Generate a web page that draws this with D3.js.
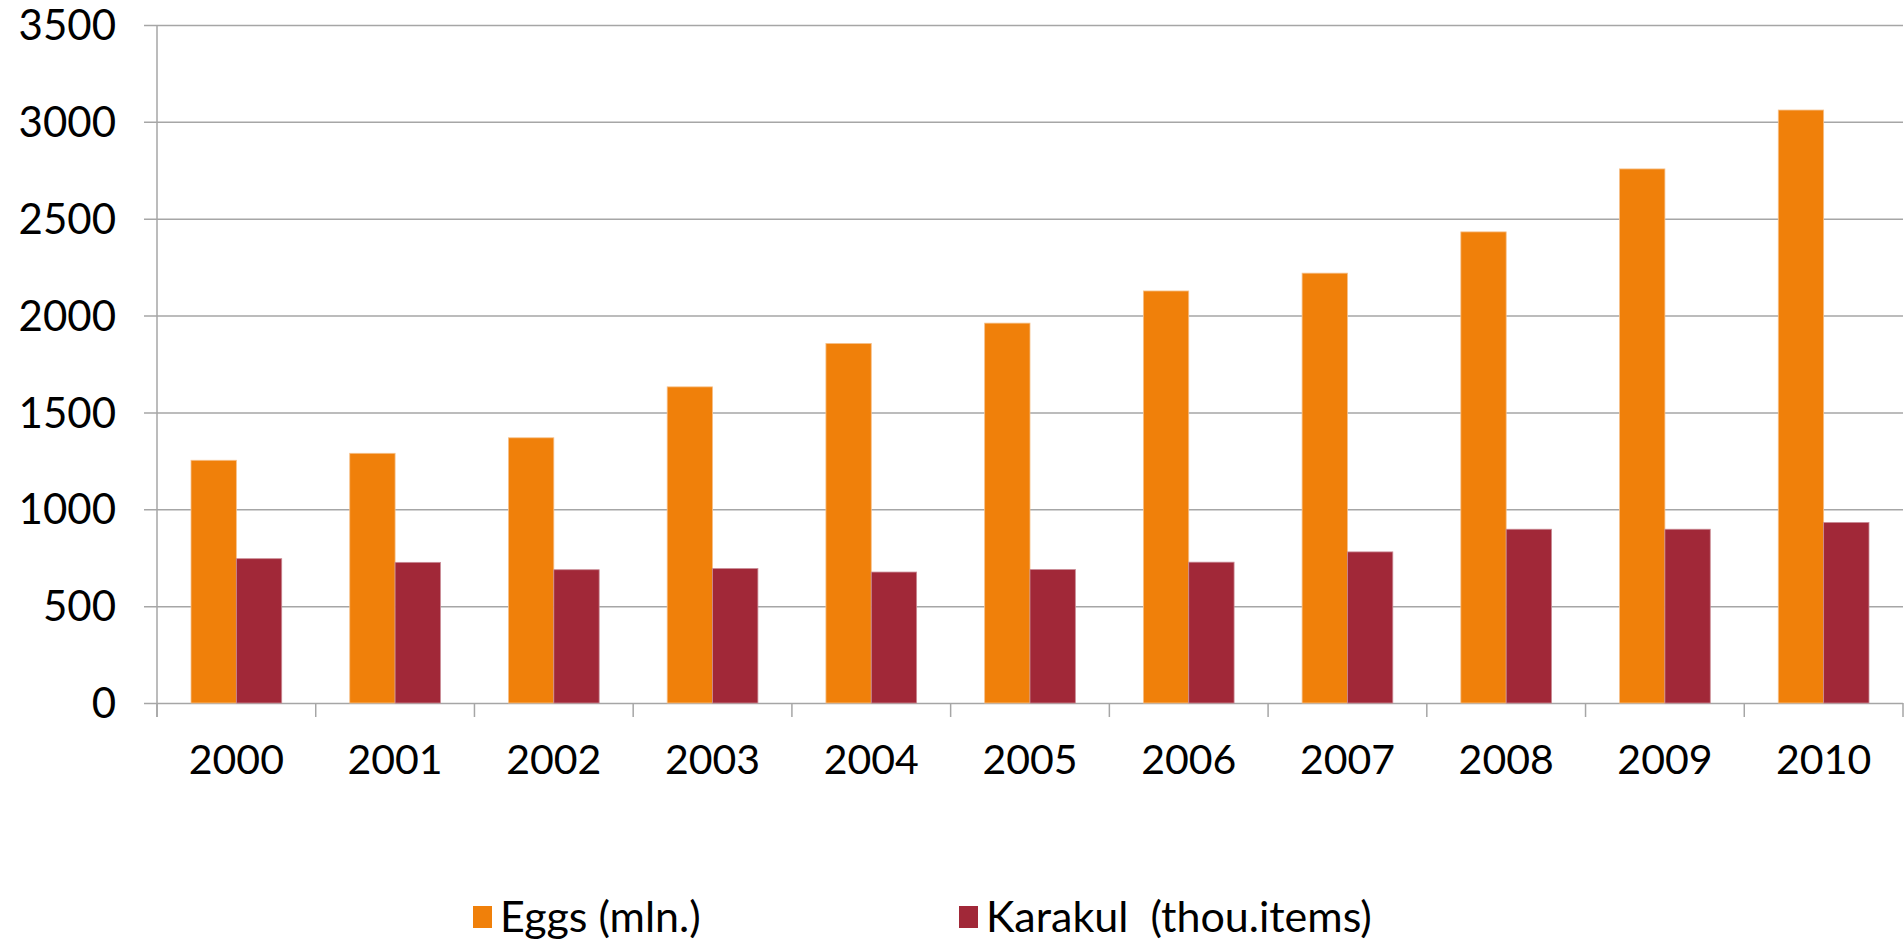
<!DOCTYPE html>
<html>
<head>
<meta charset="utf-8">
<script src="https://cdn.jsdelivr.net/npm/d3@7"></script>
<style>
  body { margin: 0; background: #fff; }
  text { font-family: "Century Gothic", "URW Gothic", Lato, sans-serif; fill: #000; }
</style>
</head>
<body>
<div id="graph"></div>
<script>
var years = ["2000", "2001", "2002", "2003", "2004", "2005", "2006", "2007", "2008", "2009", "2010"];
var eggs = [1253, 1289, 1369, 1632, 1856, 1961, 2127, 2219, 2432, 2757, 3061];
var karakul = [745, 726, 688, 694, 676, 689, 727, 780, 897, 897, 932];
var seriesNames = ["Eggs (mln.)", "Karakul  (thou.items)"];
var seriesColors = ["#f0800a", "#a12838"];
var yTicks = [0, 500, 1000, 1500, 2000, 2500, 3000, 3500];

var W = 1904, H = 945;
var plotLeft = 157, plotRight = 1903, plotTop = 25, plotBottom = 703;

var svg = d3.select("#graph").append("svg")
  .attr("width", W)
  .attr("height", H);

var x = d3.scaleBand().domain(years).range([plotLeft, plotRight]).padding(0);
var inner = d3.scaleBand().domain([0, 1]).range([0, x.bandwidth()]).paddingInner(0).paddingOuter(0.75);
var y = d3.scaleLinear().domain([0, 3500]).range([plotBottom, plotTop]);

// gridlines (they also stick out left of the axis as tick marks)
var grid = svg.append("g")
  .attr("transform", "translate(144,0)")
  .call(d3.axisRight(y).tickValues(yTicks).tickSize(plotRight - 144).tickFormat(""));
grid.select(".domain").remove();
grid.selectAll("line").attr("stroke", "#a6a6a6").attr("stroke-width", 1.5);

// y labels
svg.append("g").selectAll("text")
  .data(yTicks)
  .enter().append("text")
  .attr("x", 116)
  .attr("y", d => y(d))
  .attr("dy", "0.36em")
  .attr("text-anchor", "end")
  .style("font-size", "42px")
  .text(d => d);

// bars
var rows = years.map((yr, i) => ({ year: yr, vals: [eggs[i], karakul[i]] }));
var groups = svg.append("g").selectAll("g")
  .data(rows)
  .enter().append("g")
  .attr("transform", d => "translate(" + x(d.year) + ",0)");

groups.selectAll("rect")
  .data(d => d.vals.map((v, k) => ({ k: k, v: v })))
  .enter().append("rect")
  .attr("x", d => inner(d.k))
  .attr("width", inner.bandwidth())
  .attr("y", d => y(d.v))
  .attr("height", d => y(0) - y(d.v))
  .attr("fill", d => seriesColors[d.k])
  .attr("stroke", d => d.k === 0 ? "#f6c08a" : "#c98a94")
  .attr("stroke-width", 0.8);

// axes lines
svg.append("line")
  .attr("x1", plotLeft).attr("x2", plotLeft)
  .attr("y1", plotTop).attr("y2", plotBottom + 14)
  .attr("stroke", "#a6a6a6").attr("stroke-width", 1.5);

var bounds = years.map(d => x(d)).concat([x(years[years.length - 1]) + x.bandwidth()]);
svg.append("g").selectAll("line")
  .data(bounds)
  .enter().append("line")
  .attr("x1", d => d).attr("x2", d => d)
  .attr("y1", plotBottom).attr("y2", plotBottom + 14)
  .attr("stroke", "#a6a6a6").attr("stroke-width", 1.5);

var xAxis = svg.append("g")
  .attr("transform", "translate(0," + plotBottom + ")")
  .call(d3.axisBottom(x).tickSize(0).tickPadding(42));
xAxis.select(".domain").remove();
xAxis.selectAll("text")
  .style("font-family", "Lato, sans-serif")
  .style("font-size", "41px")
  .attr("fill", "#000");

// legend
var legendX = [473, 959];
var leg = svg.append("g").selectAll("g")
  .data(seriesNames)
  .enter().append("g")
  .attr("transform", (d, i) => "translate(" + legendX[i] + ",906)");
leg.append("rect")
  .attr("width", 19).attr("height", 22)
  .attr("fill", (d, i) => seriesColors[i]);
leg.append("text")
  .attr("x", 27)
  .attr("y", 11)
  .attr("dy", "0.36em")
  .style("font-size", "43px")
  .style("white-space", "pre")
  .attr("xml:space", "preserve")
  .text(d => d);
</script>
</body>
</html>
